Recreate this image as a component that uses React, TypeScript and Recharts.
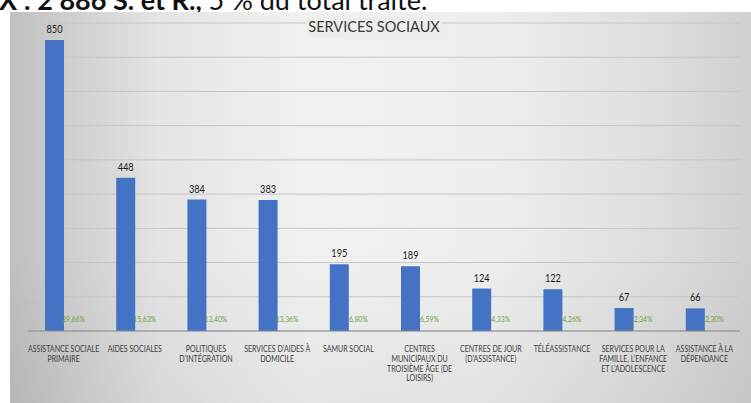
import React from "react";
import { BarChart, Bar, XAxis, YAxis, CartesianGrid, LabelList } from "recharts";

const categoryLines: string[][] = [
  ["ASSISTANCE SOCIALE", "PRIMAIRE"],
  ["AIDES SOCIALES"],
  ["POLITIQUES", "D’INTÉGRATION"],
  ["SERVICES D’AIDES À", "DOMICILE"],
  ["SAMUR SOCIAL"],
  ["CENTRES", "MUNICIPAUX DU", "TROISIÈME ÂGE (DE", "LOISIRS)"],
  ["CENTRES DE JOUR", "(D’ASSISTANCE)"],
  ["TÉLÉASSISTANCE"],
  ["SERVICES POUR LA", "FAMILLE, L’ENFANCE", "ET L’ADOLESCENCE"],
  ["ASSISTANCE À LA", "DÉPENDANCE"],
];
const counts: number[] = [850, 448, 384, 383, 195, 189, 124, 122, 67, 66];
const shares: number[] = [0.2966, 0.1563, 0.134, 0.1336, 0.068, 0.0659, 0.0433, 0.0426, 0.0234, 0.023];
const yTicks: number[] = [0, 100, 200, 300, 400, 500, 600, 700, 800, 900];

const data = categoryLines.map((lines, i) => ({
  name: lines.join("\n"),
  count: counts[i],
  share: shares[i],
}));

const FONT = "Lato, 'Open Sans', sans-serif";

const CategoryTick = (props: any) => {
  const { x, y, payload } = props;
  const lines = String(payload.value).split("\n");
  return (
    <g transform={`translate(${x},${y}) scale(0.82,1)`}>
      {lines.map((l, i) => (
        <text
          key={i}
          x={0}
          y={13 + i * 9.8}
          textAnchor="middle"
          fontSize={8.6}
          fontFamily={FONT}
          fill="#404040"
        >
          {l}
        </text>
      ))}
    </g>
  );
};

const ValueLabel = (props: any) => {
  const { x, y, width, value } = props;
  const cx = x + width / 2;
  return (
    <g transform={`translate(${cx},${y - 7}) scale(0.8,1)`}>
      <text x={0} y={0} textAnchor="middle" fontSize={11.5} fontFamily={FONT} fill="#1a1a1a">
        {value}
      </text>
    </g>
  );
};

const ShareLabel = (props: any) => {
  const { x, y, width, value } = props;
  const cx = x + width / 2;
  const txt = (Number(value) * 100).toFixed(2).replace(".", ",") + "%";
  return (
    <g transform={`translate(${cx},${y - 9}) scale(0.85,1)`}>
      <text x={0} y={0} textAnchor="middle" fontSize={8} fontFamily={FONT} fill="#6aa33a">
        {txt}
      </text>
    </g>
  );
};

export default function App() {
  return (
    <div
      style={{
        position: "absolute",
        left: 0,
        top: 0,
        width: 751,
        height: 403,
        overflow: "hidden",
        background: "#ffffff",
      }}
    >
      <div
        style={{
          position: "absolute",
          left: -1,
          top: -14,
          fontFamily: FONT,
          fontSize: 27,
          lineHeight: "27px",
          whiteSpace: "nowrap",
          color: "#111",
        }}
      >
        <b>X : 2 886 S. et R.,</b> 5 % du total traité.
      </div>
      <div
        style={{
          position: "absolute",
          left: 10,
          top: 12,
          width: 741,
          height: 391,
          background:
            "linear-gradient(to right, #c0c0c0 0%, #e4e4e4 20%, #f1f1f1 40%, #eeeeee 65%, #dddddd 88%, #d0d0d0 100%)",
        }}
      >
        <div
          style={{
            position: "absolute",
            inset: 0,
            background: "linear-gradient(to bottom, rgba(0,0,0,0) 0%, rgba(0,0,0,0) 60%, rgba(0,0,0,0.05) 100%)",
          }}
        />
        <div style={{ position: "absolute", left: 0, top: 0 }}>
          <BarChart
            width={738}
            height={388}
            data={data}
            margin={{ top: 11, right: 8, left: 18, bottom: 0 }}
            barGap={0}
            barSize={19}
          >
            <CartesianGrid vertical={false} stroke="#c6c6c6" strokeWidth={1} />
            <YAxis hide domain={[0, 900]} ticks={yTicks} />
            <XAxis
              dataKey="name"
              height={69}
              interval={0}
              axisLine={{ stroke: "#8a8a8a", strokeWidth: 1 }}
              tickLine={false}
              tick={<CategoryTick />}
            />
            <Bar dataKey="count" fill="#4472C4" isAnimationActive={false}>
              <LabelList dataKey="count" content={<ValueLabel />} />
            </Bar>
            <Bar dataKey="share" fill="#4472C4" isAnimationActive={false}>
              <LabelList dataKey="share" content={<ShareLabel />} />
            </Bar>
          </BarChart>
        </div>
        <div
          style={{
            position: "absolute",
            left: 296,
            top: 5,
            width: 136,
            height: 20,
            background: "#ededed",
            textAlign: "center",
            fontFamily: FONT,
            fontSize: 14.5,
            lineHeight: "20px",
            whiteSpace: "nowrap",
            color: "#383838",
            fontWeight: 400,
          }}
        >
          SERVICES SOCIAUX
        </div>
      </div>
    </div>
  );
}
